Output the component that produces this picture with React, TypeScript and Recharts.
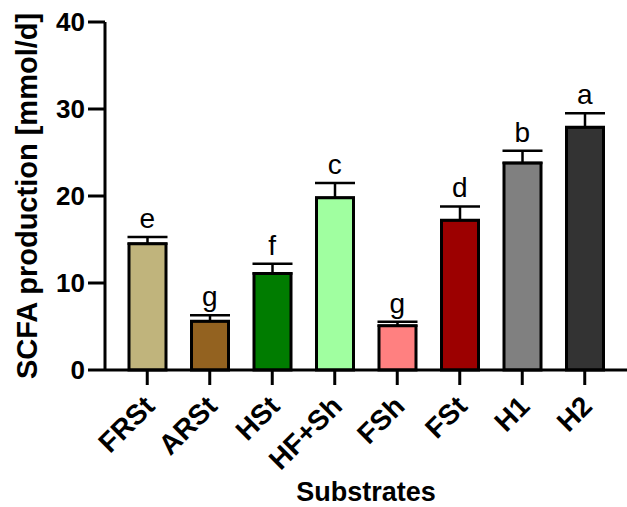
import {
  ComposedChart, Bar, Cell, ErrorBar, Scatter, XAxis, YAxis, Label,
} from "recharts";

const substrates = ["FRSt", "ARSt", "HSt", "HF+Sh", "FSh", "FSt", "H1", "H2"];
const scfaMean = [14.5, 5.6, 11.1, 19.8, 5.1, 17.2, 23.8, 27.9];
const scfaSem = [0.8, 0.7, 1.1, 1.7, 0.45, 1.6, 1.4, 1.6];
const groupLetters = ["e", "g", "f", "c", "g", "d", "b", "a"];
const barColors = ["#C0B47C", "#936220", "#007C00", "#A0FFA0", "#FF8080", "#9C0000", "#808080", "#333333"];
const yTicks = [0, 10, 20, 30, 40];

const FONT = "'Liberation Sans', Arial, sans-serif";

const rows = substrates.map((name, i) => ({
  name,
  mean: scfaMean[i],
  sem: scfaSem[i],
  top: scfaMean[i] + scfaSem[i],
  letter: groupLetters[i],
}));

// eslint-disable-next-line @typescript-eslint/no-explicit-any
const XTick = (props: any) => (
  <g transform={`translate(${props.x + 9},${props.y + 23})`}>
    <text transform="rotate(-45)" textAnchor="end" fontSize={28} fontWeight="bold" fontFamily={FONT} fill="#000">
      {props.payload.value}
    </text>
  </g>
);

// eslint-disable-next-line @typescript-eslint/no-explicit-any
const YTick = (props: any) => (
  <text x={props.x} y={props.y} dy="0.36em" textAnchor="end" fontSize={26} fontWeight="bold" fontFamily={FONT} fill="#000">
    {props.payload.value}
  </text>
);

// eslint-disable-next-line @typescript-eslint/no-explicit-any
const LetterMark = (props: any) => (
  <text x={props.cx} y={props.cy - 9} textAnchor="middle" fontSize={28} fontFamily={FONT} fill="#000">
    {props.payload.letter}
  </text>
);

export default function App() {
  return (
    <div style={{ width: 627, height: 507 }}>
      <style>{"body{margin:0}"}</style>
      <ComposedChart width={627} height={507} data={rows} margin={{ top: 22, right: 0, bottom: 0, left: 0 }}>
        <XAxis
          dataKey="name" type="category" height={137}
          padding={{ left: 11, right: 11 }}
          tickSize={15} tickMargin={0}
          stroke="#000" strokeWidth={3}
          tickLine={{ stroke: "#000", strokeWidth: 3 }}
          tick={<XTick />}
          interval={0}
        >
          <Label
            content={({ viewBox }: any) => (
              <text
                x={viewBox.x + viewBox.width / 2} y={viewBox.y + 131}
                textAnchor="middle" fontSize={27} fontWeight="bold" fontFamily={FONT} fill="#000"
              >
                Substrates
              </text>
            )}
          />
        </XAxis>
        <YAxis
          type="number" domain={[0, 40]} ticks={yTicks} width={105}
          tickSize={17} tickMargin={3}
          stroke="#000" strokeWidth={3}
          tickLine={{ stroke: "#000", strokeWidth: 3 }}
          tick={<YTick />}
        >
          <Label
            content={({ viewBox }: any) => {
              const cx = viewBox.x + 27;
              const cy = viewBox.y + viewBox.height / 2;
              return (
                <text
                  x={cx} y={cy} transform={`rotate(-90, ${cx}, ${cy})`}
                  textAnchor="middle" dominantBaseline="central"
                  fontSize={29} fontWeight="bold" fontFamily={FONT} fill="#000"
                >
                  SCFA production [mmol/d]
                </text>
              );
            }}
          />
        </YAxis>
        <Bar dataKey="mean" barSize={37} stroke="#000" strokeWidth={3} isAnimationActive={false}>
          {rows.map((r, i) => (
            <Cell key={r.name} fill={barColors[i]} />
          ))}
          <ErrorBar
            dataKey={(d: any) => [0, d.sem]}
            direction="y" width={20} stroke="#000" strokeWidth={2.5}
          />
        </Bar>
        <Scatter dataKey="top" shape={<LetterMark />} isAnimationActive={false} />
      </ComposedChart>
    </div>
  );
}
